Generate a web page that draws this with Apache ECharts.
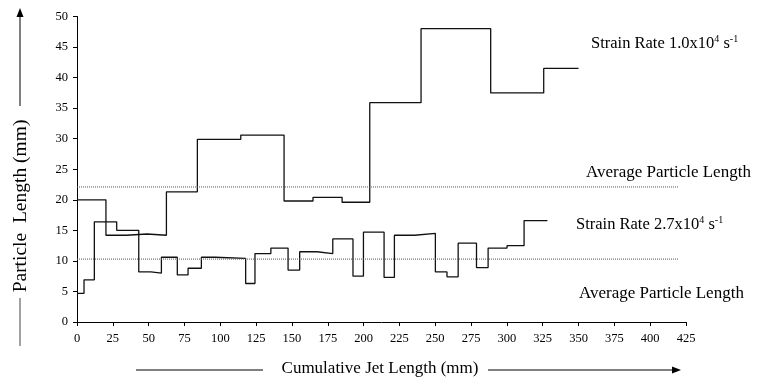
<!DOCTYPE html>
<html>
<head>
<meta charset="utf-8">
<script src="https://cdn.jsdelivr.net/npm/echarts@6/dist/echarts.min.js"></script>
<style>html,body{margin:0;padding:0;background:#fff;}#c{width:758px;height:380px;}</style>
</head>
<body>
<div id="c"></div>
<script>
// Segment boundaries (mm) and segment values (mm) for each step series
var highRateEdges = [0, 20.2, 34.5, 48.9, 62.4, 84.0, 114.3, 144.5, 164.7, 185, 204.3, 240.1, 288.7, 325.7, 350];
var highRateValues = [20.0, 14.2, 14.4, 14.2, 21.3, 29.9, 30.6, 19.8, 20.4, 19.6, 35.9, 48.0, 37.5, 41.5];

var lowRateEdges = [0, 4.9, 12.1, 27.7, 43.1, 51.6, 58.9, 70, 77.5, 86.8, 96.3, 117.7, 124.2, 135.3, 147.3, 155.4, 167.5, 178.5, 192.6, 199.9, 214.3, 221.5, 235.7, 250.1, 258.2, 266, 278.8, 286.9, 300.1, 312, 328.3];
var lowRateValues = [4.7, 6.9, 16.4, 15.0, 8.2, 8.0, 10.6, 7.7, 8.8, 10.6, 10.4, 6.3, 11.2, 12.1, 8.5, 11.5, 11.2, 13.6, 7.5, 14.7, 7.3, 14.2, 14.5, 8.2, 7.4, 12.9, 8.9, 12.1, 12.5, 16.6];

var averageValues = [22.1, 10.3];
var averageExtent = [0, 420];

var xTicks = [0, 425, 25];
var yTicks = [0, 50, 5];

function stepPoints(edges, vals) {
  var pts = [];
  for (var i = 0; i < vals.length; i++) pts.push([edges[i], vals[i]]);
  pts.push([edges[edges.length - 1], vals[vals.length - 1]]);
  return pts;
}

var FONT = 'Liberation Serif';
var chart = echarts.init(document.getElementById('c'), null, {renderer: 'canvas'});

function supText(main, exp, tail, exp2, size) {
  return {
    text: '{a|' + main + '}{s|' + exp + '}{a|' + tail + '}{s|' + exp2 + '}',
    rich: {
      a: {fontFamily: FONT, fontSize: size, fill: '#000', lineHeight: size + 2},
      s: {fontFamily: FONT, fontSize: Math.round(size * 0.6), fill: '#000', verticalAlign: 'top', lineHeight: size - 3}
    }
  };
}

var arrowColor = '#000';
var option = {
  animation: false,
  backgroundColor: '#fff',
  grid: {left: 77, right: 72, top: 16.5, bottom: 58},
  xAxis: {
    type: 'value', min: xTicks[0], max: xTicks[1], interval: xTicks[2],
    axisLine: {lineStyle: {color: '#000', width: 1}},
    axisTick: {show: true, length: 4, lineStyle: {color: '#000'}},
    axisLabel: {fontFamily: FONT, fontSize: 12.5, color: '#000', margin: 10},
    splitLine: {show: false}
  },
  yAxis: {
    type: 'value', min: yTicks[0], max: yTicks[1], interval: yTicks[2],
    axisLine: {show: true, lineStyle: {color: '#000', width: 1}},
    axisTick: {show: true, length: 4, lineStyle: {color: '#000'}},
    axisLabel: {fontFamily: FONT, fontSize: 12.5, color: '#000', margin: 9},
    splitLine: {show: false}
  },
  series: [
    {type: 'line', step: 'end', data: stepPoints(highRateEdges, highRateValues), symbol: 'none',
      lineStyle: {color: '#111', width: 1.3}},
    {type: 'line', step: 'end', data: stepPoints(lowRateEdges, lowRateValues), symbol: 'none',
      lineStyle: {color: '#111', width: 1.3}},
    {type: 'line', data: [[averageExtent[0], averageValues[0]], [averageExtent[1], averageValues[0]]], symbol: 'none',
      lineStyle: {color: '#555', width: 1, type: [1, 1]}},
    {type: 'line', data: [[averageExtent[0], averageValues[1]], [averageExtent[1], averageValues[1]]], symbol: 'none',
      lineStyle: {color: '#555', width: 1, type: [1, 1]}}
  ],
  graphic: [
    {type: 'text', left: 591, top: 34, style: supText('Strain Rate 1.0x10', '4', ' s', '-1', 16.5)},
    {type: 'text', left: 576, top: 215, style: supText('Strain Rate 2.7x10', '4', ' s', '-1', 16.5)},
    {type: 'text', left: 586, top: 164, style: {text: 'Average Particle Length', fontFamily: FONT, fontSize: 17, fill: '#000'}},
    {type: 'text', left: 579, top: 285, style: {text: 'Average Particle Length', fontFamily: FONT, fontSize: 17, fill: '#000'}},
    // y axis title with arrow
    {type: 'text', x: 21, y: 206, rotation: Math.PI / 2,
      style: {text: 'Particle  Length (mm)', fontFamily: FONT, fontSize: 19.5, fill: '#000', align: 'center', verticalAlign: 'middle'}},
    {type: 'line', shape: {x1: 20, y1: 298, x2: 20, y2: 346}, style: {stroke: '#444', lineWidth: 1}},
    {type: 'line', shape: {x1: 20, y1: 106, x2: 20, y2: 16}, style: {stroke: arrowColor, lineWidth: 1}},
    {type: 'polygon', shape: {points: [[20, 8], [16.5, 17], [23.5, 17]]}, style: {fill: arrowColor}},
    // x axis title with arrow
    {type: 'text', x: 380, y: 369,
      style: {text: 'Cumulative Jet Length (mm)', fontFamily: FONT, fontSize: 17, fill: '#000', align: 'center', verticalAlign: 'middle'}},
    {type: 'line', shape: {x1: 136, y1: 370, x2: 263, y2: 370}, style: {stroke: arrowColor, lineWidth: 1}},
    {type: 'line', shape: {x1: 488, y1: 370, x2: 673, y2: 370}, style: {stroke: arrowColor, lineWidth: 1}},
    {type: 'polygon', shape: {points: [[681, 370], [672, 366.5], [672, 373.5]]}, style: {fill: arrowColor}}
  ]
};
chart.setOption(option);
</script>
</body>
</html>
